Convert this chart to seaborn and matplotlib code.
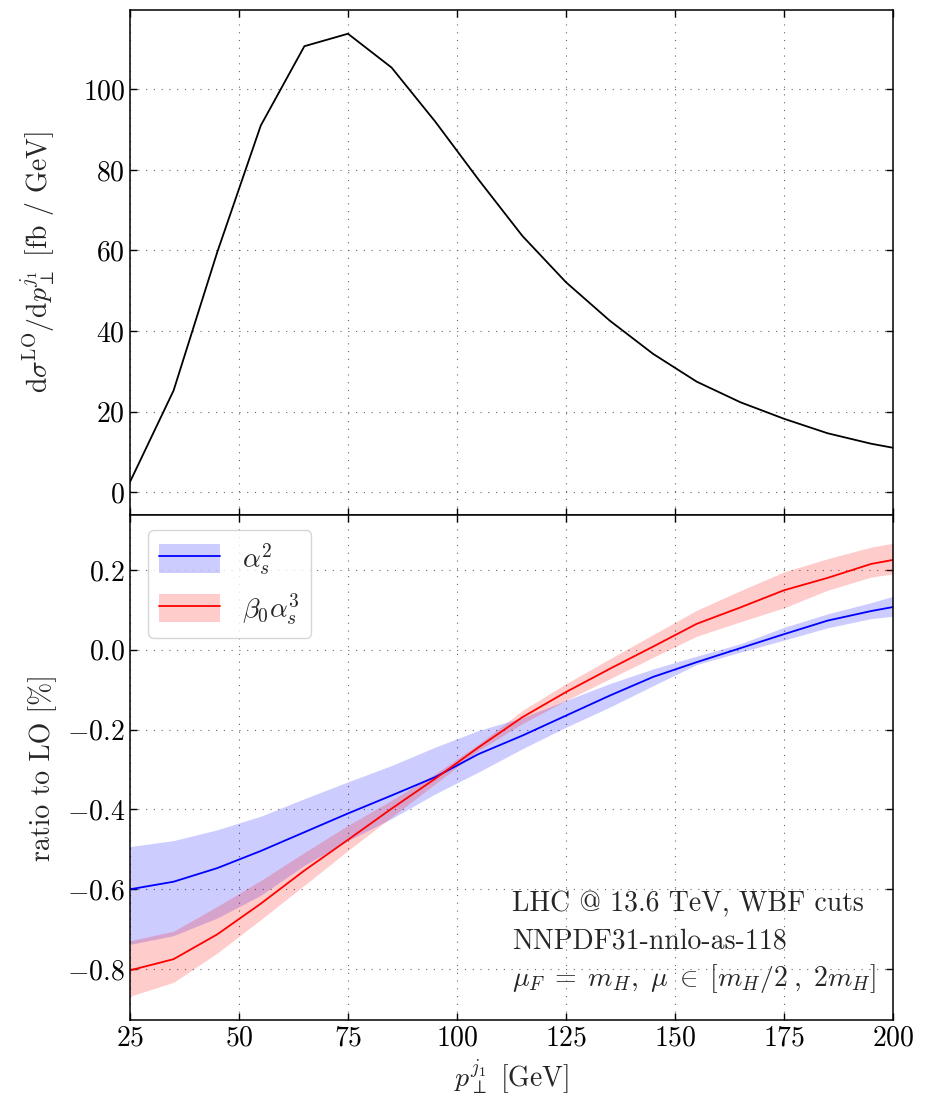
import numpy as np
import pandas as pd
import matplotlib
matplotlib.use("Agg")
import matplotlib.pyplot as plt
from matplotlib.patches import Patch
from matplotlib.lines import Line2D
import seaborn as sns

# transverse momentum of the leading jet [GeV]
pt = [25, 35, 45, 55, 65, 75, 85, 95, 105, 115, 125, 135, 145, 155, 165, 175, 185, 195, 200]

# LO differential cross section [fb / GeV]
dsigma_lo = [2.5, 25.2, 59.5, 91.0, 110.7, 113.8, 105.4, 92.0, 77.5, 63.6, 52.1, 42.6,
             34.3, 27.4, 22.3, 18.2, 14.6, 12.0, 11.0]

# ratio to LO [%], alpha_s^2 term: central, upper, lower
as2_c = [-0.600, -0.581, -0.547, -0.504, -0.457, -0.410, -0.365, -0.319, -0.261, -0.215,
         -0.165, -0.115, -0.068, -0.031, 0.004, 0.039, 0.073, 0.097, 0.107]
as2_hi = [-0.493, -0.478, -0.451, -0.417, -0.373, -0.331, -0.290, -0.244, -0.202, -0.170,
          -0.127, -0.085, -0.048, -0.016, 0.015, 0.056, 0.090, 0.118, 0.134]
as2_lo = [-0.738, -0.716, -0.672, -0.615, -0.540, -0.478, -0.423, -0.361, -0.306, -0.248,
          -0.194, -0.144, -0.090, -0.037, -0.006, 0.024, 0.055, 0.078, 0.084]

# ratio to LO [%], beta_0 alpha_s^3 term: central, upper, lower
b0as3_c = [-0.803, -0.775, -0.713, -0.636, -0.553, -0.476, -0.398, -0.323, -0.244, -0.169,
           -0.106, -0.048, 0.008, 0.065, 0.106, 0.149, 0.180, 0.215, 0.225]
b0as3_hi = [-0.729, -0.705, -0.643, -0.578, -0.508, -0.440, -0.377, -0.311, -0.236, -0.152,
            -0.085, -0.023, 0.038, 0.099, 0.148, 0.195, 0.228, 0.257, 0.267]
b0as3_lo = [-0.868, -0.833, -0.760, -0.676, -0.590, -0.503, -0.419, -0.336, -0.252, -0.185,
            -0.127, -0.073, -0.019, 0.034, 0.070, 0.105, 0.149, 0.182, 0.190]

x_ticks = [25, 50, 75, 100, 125, 150, 175, 200]
top_yticks = [0, 20, 40, 60, 80, 100]
bot_yticks = [-0.8, -0.6, -0.4, -0.2, 0.0, 0.2]

sns.set_theme(style="ticks")
plt.rcParams.update({
    "font.family": ["cmr10", "DejaVu Serif"],
    "mathtext.fontset": "cm",
    "axes.formatter.use_mathtext": True,
    "axes.unicode_minus": True,
    "font.size": 20,
    "axes.edgecolor": "black",
    "axes.linewidth": 1.1,
    "xtick.direction": "in",
    "ytick.direction": "in",
    "xtick.top": True,
    "ytick.right": True,
    "xtick.major.size": 5,
    "ytick.major.size": 5,
    "xtick.major.width": 1.0,
    "ytick.major.width": 1.0,
    "xtick.color": "black",
    "ytick.color": "black",
    "xtick.labelsize": 20,
    "ytick.labelsize": 20,
    "axes.labelsize": 20,
})

fig = plt.figure(figsize=(9.33, 10.96), dpi=100)
ax1 = fig.add_axes([0.1393, 0.5301, 0.8178, 0.4608])
ax2 = fig.add_axes([0.1393, 0.0693, 0.8178, 0.4608], sharex=ax1)

grid_kw = dict(color="0.4", linestyle=(0, (1, 6)), linewidth=0.8)

# upper panel: LO distribution
df_lo = pd.DataFrame({"pt": pt, "dsigma": dsigma_lo})
sns.lineplot(data=df_lo, x="pt", y="dsigma", ax=ax1, color="black", linewidth=1.3)
ax1.set_xlim(25, 200)
ax1.set_ylim(-5.7, 119.7)
ax1.set_yticks(top_yticks)
ax1.set_xticks(x_ticks)
ax1.tick_params(labelbottom=False)
ax1.grid(True, **grid_kw)
ax1.set_xlabel("")
ax1.set_ylabel(r"$\mathrm{d}\sigma^{\mathrm{LO}}/\mathrm{d}p_{\perp}^{j_1}$ [fb / GeV]")

# lower panel: ratios with scale-variation bands
blue = "#0000ff"
red = "#ff0000"
ax2.fill_between(pt, as2_lo, as2_hi, color=blue, alpha=0.2, linewidth=0)
ax2.fill_between(pt, b0as3_lo, b0as3_hi, color=red, alpha=0.2, linewidth=0)
df_r = pd.DataFrame({
    "pt": pt * 2,
    "ratio": as2_c + b0as3_c,
    "term": ["as2"] * len(pt) + ["b0as3"] * len(pt),
})
sns.lineplot(data=df_r, x="pt", y="ratio", hue="term", palette={"as2": blue, "b0as3": red},
             ax=ax2, linewidth=1.3, legend=False)
ax2.set_xlim(25, 200)
ax2.set_ylim(-0.9275, 0.3375)
ax2.set_yticks(bot_yticks)
ax2.set_xticks(x_ticks)
ax2.grid(True, **grid_kw)
ax2.set_xlabel(r"$p_{\perp}^{j_1}$ [GeV]")
ax2.set_ylabel("ratio to LO [%]")

handles = [
    (Patch(facecolor=blue, alpha=0.2, linewidth=0), Line2D([], [], color=blue, linewidth=1.3)),
    (Patch(facecolor=red, alpha=0.2, linewidth=0), Line2D([], [], color=red, linewidth=1.3)),
]
leg = ax2.legend(handles, [r"$\alpha_s^2$", r"$\beta_0\alpha_s^3$"], loc="upper left",
                 fontsize=20, frameon=True, fancybox=True, framealpha=0.8,
                 edgecolor="0.8", handlelength=2.2, handleheight=1.2,
                 borderpad=0.4, labelspacing=0.5, handletextpad=0.8,
                 borderaxespad=0.0, bbox_to_anchor=(0.0236, 0.970))

info_x = 0.5007
ax2.text(info_x, 0.216, "LHC @ 13.6 TeV, WBF cuts", transform=ax2.transAxes,
         fontsize=20, va="baseline", ha="left")
ax2.text(info_x, 0.142, "NNPDF31-nnlo-as-118", transform=ax2.transAxes,
         fontsize=20, va="baseline", ha="left")
ax2.text(info_x, 0.068, r"$\mu_F\;=\;m_H,\ \mu\;\in\;[m_H/2\;,\;2m_H]$", transform=ax2.transAxes,
         fontsize=20, va="baseline", ha="left")

ax1.yaxis.set_label_coords(-0.095, 0.5)
ax2.yaxis.set_label_coords(-0.095, 0.5)

fig.savefig("out.png", dpi=100)
